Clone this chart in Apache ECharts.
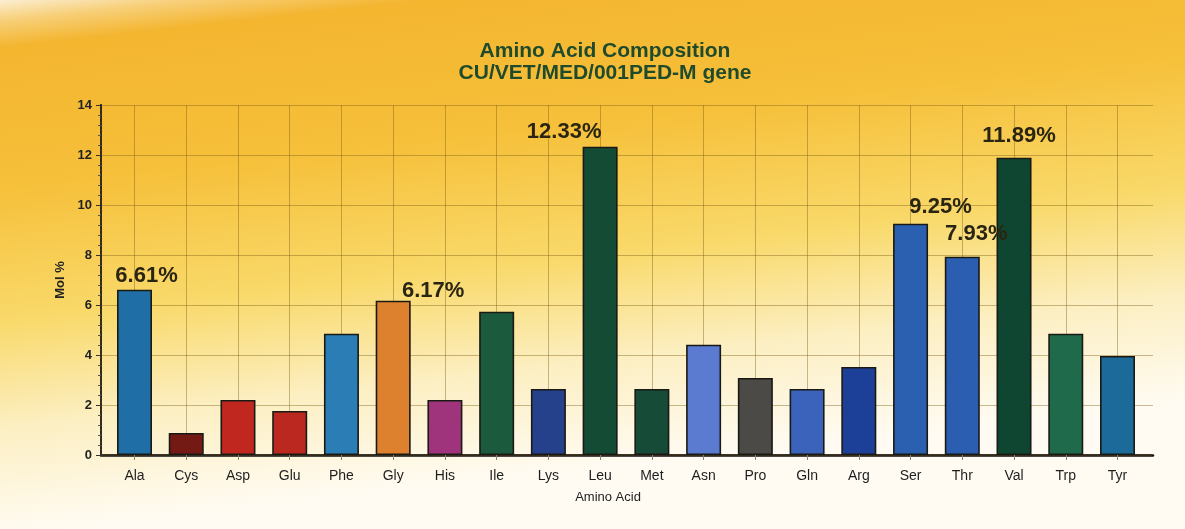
<!DOCTYPE html>
<html>
<head>
<meta charset="utf-8">
<title>Amino Acid Composition</title>
<script src="https://cdn.jsdelivr.net/npm/echarts@6/dist/echarts.min.js"></script>
<style>
  html, body { margin: 0; padding: 0; background: #ffffff; }
  #chart { width: 1185px; height: 529px; }
</style>
</head>
<body>
<div id="chart"></div>
<script>
// Amino acid composition (mol %) of the CU/VET/MED/001PED M gene product
const aminoAcids = ['Ala', 'Cys', 'Asp', 'Glu', 'Phe', 'Gly', 'His', 'Ile', 'Lys', 'Leu',
                    'Met', 'Asn', 'Pro', 'Gln', 'Arg', 'Ser', 'Thr', 'Val', 'Trp', 'Tyr'];
const molPercent = [6.61, 0.88, 2.20, 1.76, 4.85, 6.17, 2.20, 5.73, 2.64, 12.33,
                    2.64, 4.41, 3.08, 2.64, 3.52, 9.25, 7.93, 11.89, 4.85, 3.96];
const yTicks = [0, 2, 4, 6, 8, 10, 12, 14];
// residues whose percentage is printed above the bar
const labelledAcids = ['Ala', 'Gly', 'Leu', 'Ser', 'Thr', 'Val'];

// one fill per residue
const barColors = ['#1f6ea6', '#731a14', '#c0281f', '#bb281f', '#2a7db5', '#dd812e',
                   '#a0347c', '#1c5a3d', '#26418c', '#134b35', '#154b37', '#5a7bd0',
                   '#4b4a47', '#3c63bc', '#1c3f98', '#2b60b0', '#2b5db0', '#0f4631',
                   '#1e6a4a', '#1b6a9a'];
// nudges for the value labels so they sit clear of neighbouring bars
const labelNudge = { Ala: [12, 2], Gly: [40, 6], Leu: [-36, 1], Ser: [30, -1], Thr: [14, -7], Val: [5, -6] };

const chart = echarts.init(document.getElementById('chart'), null, { renderer: 'canvas' });

const yMin = yTicks[0], yMax = yTicks[yTicks.length - 1], yStep = yTicks[1] - yTicks[0];
const gridLineColor = 'rgba(125, 92, 20, 0.42)';
const fontFamily = 'Liberation Sans, Arial, sans-serif';

const option = {
  animation: false,
  backgroundColor: new echarts.graphic.LinearGradient(0, 0, 0.05, 1, [
    { offset: 0.00, color: '#fbeed2' },
    { offset: 0.04, color: '#f7cf78' },
    { offset: 0.09, color: '#f4b52f' },
    { offset: 0.35, color: '#f6c03a' },
    { offset: 0.60, color: '#f9d96a' },
    { offset: 0.80, color: '#fcefc2' },
    { offset: 1.00, color: '#fffbf2' }
  ]),
  title: {
    text: 'Amino Acid Composition\nCU/VET/MED/001PED-M gene',
    left: 600,
    top: 35,
    textAlign: 'center',
    textStyle: {
      fontFamily: fontFamily,
      fontSize: 21,
      fontWeight: 'bold',
      color: '#1f4a2c',
      lineHeight: 22
    }
  },
  grid: [
    // bar grid: spans from the first to the last category centre
    { left: 134.5, right: 67.5, top: 105, bottom: 74 },
    // frame grid: axes, horizontal rules and border
    { left: 101, right: 32, top: 105, bottom: 74 }
  ],
  xAxis: [
    {
      gridIndex: 0,
      type: 'category',
      data: aminoAcids,
      boundaryGap: false,
      name: 'Amino Acid',
      nameLocation: 'middle',
      nameGap: 36,
      nameTextStyle: { fontFamily: fontFamily, fontSize: 13, color: '#222', padding: [0, 36, 0, 0] },
      axisLine: { show: false },
      axisTick: { show: true, length: 5, lineStyle: { color: '#8a8070', width: 1 } },
      axisLabel: {
        margin: 14,
        fontFamily: fontFamily,
        fontSize: 14,
        color: '#1e1e1e'
      },
      splitLine: { show: true, interval: 0, lineStyle: { color: gridLineColor, width: 1 } }
    },
    {
      gridIndex: 1,
      type: 'value',
      min: 0, max: 1,
      position: 'bottom',
      axisLine: { show: true, lineStyle: { color: '#111', width: 2.5 } },
      axisTick: { show: false }, axisLabel: { show: false }, splitLine: { show: false }
    },
    {
      gridIndex: 1,
      type: 'value',
      min: 0, max: 1,
      position: 'top',
      axisLine: { show: true, lineStyle: { color: '#3a3020', width: 2, type: [2, 2] } },
      axisTick: { show: false }, axisLabel: { show: false }, splitLine: { show: false }
    }
  ],
  yAxis: [
    {
      gridIndex: 0,
      type: 'value',
      min: yMin, max: yMax, interval: yStep,
      show: false
    },
    {
      gridIndex: 1,
      type: 'value',
      min: yMin, max: yMax, interval: yStep,
      position: 'left',
      name: 'Mol %',
      nameLocation: 'middle',
      nameGap: 34,
      nameRotate: 90,
      nameTextStyle: { fontFamily: fontFamily, fontSize: 13, fontWeight: 'bold', color: '#222' },
      axisLine: { show: true, lineStyle: { color: '#111', width: 2 } },
      axisTick: { show: true, length: 5, lineStyle: { color: '#333', width: 1 } },
      minorTick: { show: true, splitNumber: 5, length: 3, lineStyle: { color: '#555' } },
      axisLabel: {
        margin: 9,
        fontFamily: fontFamily,
        fontSize: 13,
        fontWeight: 'bold',
        color: '#222'
      },
      splitLine: { show: true, lineStyle: { color: gridLineColor, width: 1.2 } }
    },
    {
      gridIndex: 1,
      type: 'value',
      min: yMin, max: yMax, interval: yStep,
      position: 'right',
      axisLine: { show: true, lineStyle: { color: '#3a3020', width: 2, type: [2, 2] } },
      axisTick: { show: false }, axisLabel: { show: false }, splitLine: { show: false }
    }
  ],
  series: [
    {
      type: 'bar',
      xAxisIndex: 0,
      yAxisIndex: 0,
      barWidth: 35,
      clip: false,
      z: 3,
      data: molPercent.map((v, i) => {
        const acid = aminoAcids[i];
        const item = {
          value: v,
          itemStyle: {
            color: barColors[i],
            borderColor: '#1a1a14',
            borderWidth: 1.6
          }
        };
        if (labelledAcids.includes(acid)) {
          item.label = {
            show: true,
            position: 'top',
            distance: 5,
            offset: labelNudge[acid] || [0, 0],
            formatter: p => p.value.toFixed(2) + '%',
            fontFamily: fontFamily,
            fontSize: 22,
            fontWeight: 'bold',
            color: '#2a2512'
          };
        }
        return item;
      })
    }
  ]
};

chart.setOption(option);
</script>
</body>
</html>
